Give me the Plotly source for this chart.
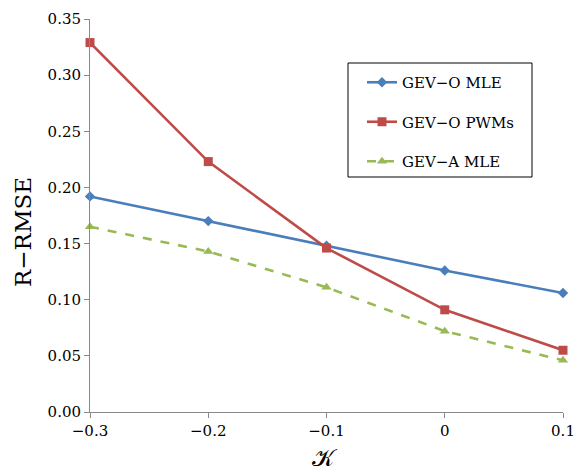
import plotly.graph_objects as go

kappa = [-0.3, -0.2, -0.1, 0.0, 0.1]
kappa_labels = ["−0.3", "−0.2", "−0.1", "0", "0.1"]
gev_o_mle = [0.192, 0.170, 0.148, 0.126, 0.106]
gev_o_pwms = [0.329, 0.223, 0.146, 0.091, 0.055]
gev_a_mle = [0.165, 0.143, 0.111, 0.072, 0.046]

series = [
    ("GEV−O MLE", gev_o_mle, "#4a7ebb", "diamond", "solid", 8),
    ("GEV−O PWMs", gev_o_pwms, "#be4b48", "square", "solid", 9),
    ("GEV−A MLE", gev_a_mle, "#98b954", "triangle-up", "dash", 9),
]

# page has an 8px body margin; figure placed so plot area is x 90..563, y 19..412
W, H = 575, 464
ML, MR, MT, MB = 82, 20, 11, 60
OFF = 8

fig = go.Figure()
for i, (name, vals, color, sym, dash, ms) in enumerate(series):
    fig.add_trace(go.Scatter(
        x=kappa, y=vals, name=name, mode="lines+markers",
        line=dict(color=color, width=2.6, dash=dash),
        marker=dict(symbol=sym, size=ms, color=color),
        cliponaxis=False, legendgroup=f"g{i}",
    ))

pw = W - ML - MR
ph = H - MT - MB
def px_to_paper_x(px):
    return (px - OFF - ML) / pw
def px_to_paper_y(py):
    return (H - MB - (py - OFF)) / ph

fig.add_shape(type="rect", xref="paper", yref="paper",
              x0=px_to_paper_x(348), x1=px_to_paper_x(532),
              y0=px_to_paper_y(177), y1=px_to_paper_y(63),
              line=dict(color="black", width=1), fillcolor="rgba(0,0,0,0)", layer="above")

fig.add_annotation(text="R−RMSE", xref="paper", yref="paper",
                   x=px_to_paper_x(23), y=px_to_paper_y(232),
                   xanchor="center", yanchor="middle", textangle=-90,
                   showarrow=False, font=dict(size=23))
fig.add_annotation(text="𝒦", xref="paper", yref="paper",
                   x=px_to_paper_x(325), y=px_to_paper_y(458),
                   xanchor="center", yanchor="middle",
                   showarrow=False, font=dict(size=24))

fig.update_layout(
    width=W, height=H,
    margin=dict(l=ML, r=MR, t=MT, b=MB, autoexpand=False),
    paper_bgcolor="white", plot_bgcolor="white",
    font=dict(family="DejaVu Serif, Liberation Serif, serif", color="black", size=15),
    xaxis=dict(
        range=[-0.3, 0.1], tickvals=kappa, ticktext=kappa_labels, automargin=False,
        showgrid=False, zeroline=False, showline=True, linecolor="#898989", linewidth=1,
        ticks="outside", ticklen=5, tickcolor="#898989",
    ),
    yaxis=dict(
        range=[0, 0.35], dtick=0.05, tickformat=".2f", automargin=False,
        showgrid=False, zeroline=False, showline=True, linecolor="#898989", linewidth=1,
        ticks="outside", ticklen=5, tickcolor="#898989",
    ),
    legend=dict(
        x=px_to_paper_x(362), y=px_to_paper_y(66),
        xanchor="left", yanchor="top",
        borderwidth=0, bgcolor="rgba(0,0,0,0)",
        font=dict(size=15), tracegroupgap=17, itemwidth=30,
    ),
)

fig.write_html("out.html")
